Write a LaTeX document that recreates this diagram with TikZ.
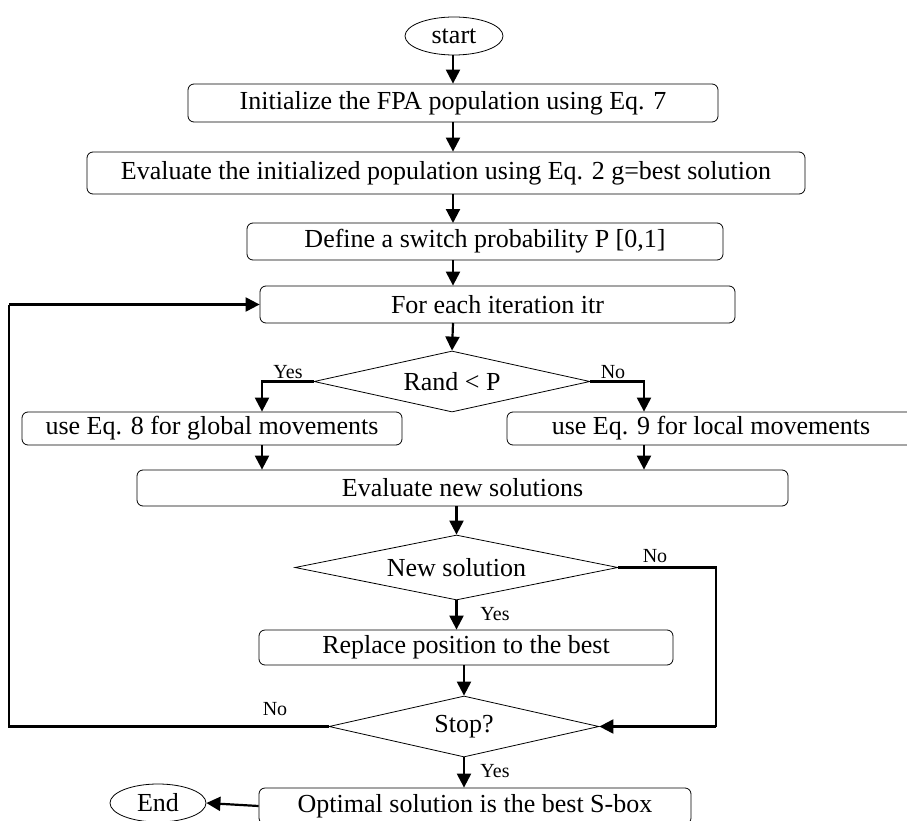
\documentclass[tikz,border=0pt]{standalone}
\usepackage{fontspec}
\setmainfont{Liberation Serif}
\usetikzlibrary{shapes.geometric,arrows.meta}
\begin{document}
\begin{tikzpicture}[x=1pt,y=-1pt,
  every node/.style={font=\fontsize{26}{30}\selectfont, inner sep=0pt},
  procbox/.style={draw, rounded corners=6pt, line width=0.8pt},
  term/.style={draw, ellipse, line width=0.8pt},
  decide/.style={draw, diamond, aspect=4, line width=0.8pt},
  flow/.style={line width=2.2pt, -{Triangle[length=14pt,width=14pt]}},
  plain/.style={line width=2.2pt},
  lbl/.style={font=\fontsize{20}{24}\selectfont, anchor=base}]
\useasboundingbox (0,0) rectangle (907,821);

\node[term, minimum width=98pt, minimum height=38pt] (start) at (454,36) {start};
\node[procbox, minimum width=530pt, minimum height=38pt] (b1) at (453,103) {Initialize the FPA population using Eq. 7};
\node[procbox, minimum width=718pt, minimum height=42pt] (b2) at (446,173) {Evaluate the initialized population using Eq. 2 g=best solution};
\node[procbox, minimum width=476pt, minimum height=37pt] (b3) at (485,241.5) {Define a switch probability P [0,1]};
\node[procbox, minimum width=475pt, minimum height=37pt] (b4) at (497.5,304.5) {For each iteration itr};
\node[decide, minimum width=276pt, minimum height=61pt] (d1) at (452,381.5) {Rand {\textless} P};
\node[procbox, minimum width=380pt, minimum height=33pt] (b5) at (212,428.5) {use Eq. 8 for global movements};
\node[procbox, minimum width=408pt, minimum height=33pt] (b6) at (711,428.5) {use Eq. 9 for local movements};
\node[procbox, minimum width=651pt, minimum height=36pt] (b7) at (462.5,488) {Evaluate new solutions};
\node[decide, minimum width=323pt, minimum height=65pt] (d2) at (456.5,567.5) {New solution};
\node[procbox, minimum width=414pt, minimum height=35pt] (b8) at (466,647.5) {Replace position to the best};
\node[decide, minimum width=270pt, minimum height=61pt] (d3) at (464,726.5) {Stop?};
\node[procbox, minimum width=432pt, minimum height=36pt] (b9) at (475,806) {Optimal solution is the best S-box};
\node[term, minimum width=96pt, minimum height=38pt] (end) at (158,803) {End};

\coordinate (yl) at (262,381.5);
\coordinate (nr) at (644,381.5);
\coordinate (n2a) at (716,567.5);
\coordinate (n2b) at (716,726.5);
\coordinate (lpa) at (9,726.5);
\coordinate (lpb) at (9,304.5);

\draw[flow] (start.south -| 453,0) -- (b1.north -| 453,0);
\draw[flow] (b1.south) -- (b1.south |- b2.north);
\draw[flow] (453,194) -- (453,223);
\draw[flow] (453,260) -- (b4.north -| 453,0);
\draw[flow] (453,323) -- (d1.north);
\draw[flow] (d1.west) -- (yl) -- (yl |- b5.north);
\draw[flow] (d1.east) -- (nr) -- (nr |- b6.north);
\draw[flow] (yl |- b5.south) -- (yl |- b7.north);
\draw[flow] (nr |- b6.south) -- (nr |- b7.north);
\draw[flow] (d2.north |- b7.south) -- (d2.north);
\draw[flow] (d2.south) -- (d2.south |- b8.north);
\draw[plain] (d2.east) -- (n2a) -- (n2b);
\draw[flow] (n2b) -- (d3.east);
\draw[flow] (d3.north |- b8.south) -- (d3.north);
\draw[plain] (d3.west) -- (lpa) -- (lpb);
\draw[flow] (lpb) -- (b4.west);
\draw[flow] (d3.south) -- (d3.south |- b9.north);
\draw[flow] (b9.west) -- (end.east);

\node[lbl] (ly1) at (288,378) {Yes};
\node[lbl] (ln1) at (613,378) {No};
\node[lbl] (ln2) at (655,562) {No};
\node[lbl] (ly2) at (495,620) {Yes};
\node[lbl] (ln3) at (275,715) {No};
\node[lbl] (ly3) at (495,777) {Yes};
\end{tikzpicture}
\end{document}
